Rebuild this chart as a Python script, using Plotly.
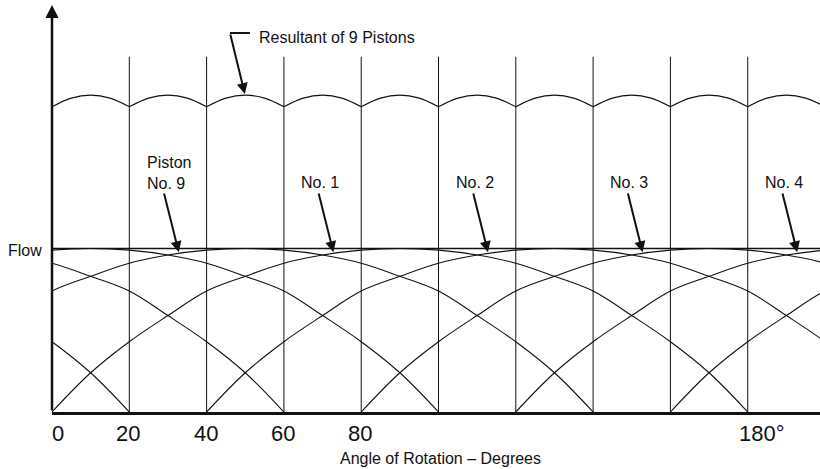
"""Flow of a 9-piston pump: single piston curves and their resultant."""
import plotly.graph_objects as go

# one piston's delivery over half a turn (flow = 1 at peak)
profile_angles = [0, 10, 20, 30, 40, 50, 60, 70, 80, 90,
                  100, 110, 120, 130, 140, 150, 160, 170, 180]
profile_flow = [0, 0.24, 0.43, 0.59, 0.74, 0.83, 0.91, 0.96, 0.99, 1.0,
                0.99, 0.96, 0.91, 0.83, 0.74, 0.59, 0.43, 0.24, 0]

# angle at which each piston starts delivering
piston_starts = [-160, -120, -80, -40, 0, 40, 80, 120, 160]

# resultant of the 9 pistons (drawn on the same scale, above the single curves)
resultant_angles = list(range(0, 205, 5))
resultant_flow = [1.867, 1.92, 1.938, 1.92, 1.867, 1.92, 1.938, 1.92, 1.867,
                  1.92, 1.938, 1.92, 1.867, 1.92, 1.938, 1.92, 1.867, 1.92,
                  1.938, 1.92, 1.867, 1.92, 1.938, 1.92, 1.867, 1.92, 1.938,
                  1.92, 1.867, 1.92, 1.938, 1.92, 1.867, 1.92, 1.938, 1.92,
                  1.867, 1.92, 1.938, 1.92, 1.867]

grid_angles = [20, 40, 60, 80, 100, 120, 140, 160, 180]
tick_angles = [0, 20, 40, 60, 80, 180]
tick_labels = ["0", "20", "40", "60", "80", "180°"]
piston_names = ["Piston<br>No. 9", "No. 1", "No. 2", "No. 3", "No. 4"]

INK = "#111111"
FONT = "Liberation Sans, Arial, Helvetica, sans-serif"

fig = go.Figure()

for start in piston_starts:
    fig.add_trace(go.Scatter(
        x=[start + a for a in profile_angles],
        y=profile_flow,
        mode="lines",
        line=dict(color=INK, width=1.1, shape="spline"),
        hoverinfo="skip",
        showlegend=False,
    ))

# each 20 deg arch on its own so the cusps stay sharp
for k in range(0, len(resultant_angles) - 1, 4):
    fig.add_trace(go.Scatter(
        x=resultant_angles[k:k + 5],
        y=resultant_flow[k:k + 5],
        mode="lines",
        line=dict(color=INK, width=1.1, shape="spline"),
        hoverinfo="skip",
        showlegend=False,
    ))

for a in grid_angles:
    fig.add_shape(type="line", xref="x", yref="y", x0=a, x1=a, y0=0, y1=2.173,
                  line=dict(color=INK, width=1))

# "Flow" reference line
fig.add_shape(type="line", xref="paper", yref="y", x0=0, x1=1, y0=1, y1=1,
              line=dict(color=INK, width=1.3))

# y axis with arrow
fig.add_annotation(x=0, y=2.49, ax=0, ay=0, xref="x", yref="y", axref="x", ayref="y",
                   text="", showarrow=True, arrowhead=2, arrowsize=1.05,
                   arrowwidth=2.5, arrowcolor=INK)

for a, lab in zip(tick_angles, tick_labels):
    if a == 180:
        fig.add_annotation(x=a, y=0, xref="x", yref="paper", text=lab, showarrow=False,
                           xanchor="left", yanchor="middle", xshift=-11, yshift=-21,
                           font=dict(family=FONT, size=22, color=INK))
    else:
        fig.add_annotation(x=a, y=0, xref="x", yref="paper", text=lab, showarrow=False,
                           xanchor="center", yanchor="middle",
                           xshift=6 if a == 0 else -1, yshift=-21,
                           font=dict(family=FONT, size=22, color=INK))

fig.add_annotation(x=0.5, y=0, xref="paper", yref="paper",
                   text="Angle of Rotation – Degrees", showarrow=False,
                   xanchor="center", yanchor="middle", xshift=4, yshift=-46,
                   font=dict(family=FONT, size=16, color=INK))

fig.add_annotation(x=0, y=1, xref="paper", yref="y", text="Flow", showarrow=False,
                   xanchor="right", yanchor="middle", xshift=-8, yshift=-2,
                   font=dict(family=FONT, size=16, color=INK))

# piston labels and arrows
for j, name in enumerate(piston_names):
    tail = 28.9 + 40 * j
    fig.add_annotation(x=tail + 3.9, y=0.977, ax=tail, ay=1.345,
                       xref="x", yref="y", axref="x", ayref="y",
                       text="", showarrow=True, arrowhead=2, arrowsize=1.1,
                       arrowwidth=2, arrowcolor=INK)
    if j == 0:
        fig.add_annotation(x=24.1, y=1.461, xref="x", yref="y", text=name,
                           showarrow=False, xanchor="left", yanchor="middle", align="left",
                           font=dict(family=FONT, size=16, color=INK))
    else:
        fig.add_annotation(x=tail + 0.5, y=1.406, xref="x", yref="y", text=name,
                           showarrow=False, xanchor="center", yanchor="middle",
                           font=dict(family=FONT, size=16, color=INK))

# resultant label with bent leader
fig.add_shape(type="line", xref="x", yref="y", x0=46.05, x1=51.2, y0=2.318, y1=2.318,
              line=dict(color=INK, width=2))
fig.add_annotation(x=49.9, y=1.945, ax=46.05, ay=2.318,
                   xref="x", yref="y", axref="x", ayref="y",
                   text="", showarrow=True, arrowhead=2, arrowsize=1.1,
                   arrowwidth=2, arrowcolor=INK)
fig.add_annotation(x=53.0, y=2.29, xref="x", yref="y", text="Resultant of 9 Pistons",
                   showarrow=False, xanchor="left", yanchor="middle",
                   font=dict(family=FONT, size=16, color=INK))

fig.update_layout(
    width=820, height=469,
    margin=dict(l=52, r=0, t=0, b=57, pad=0),
    paper_bgcolor="white", plot_bgcolor="white",
    xaxis=dict(range=[0, 198.7], showgrid=False, zeroline=False, showticklabels=False,
               ticks="", showline=True, linewidth=2.5, linecolor=INK),
    yaxis=dict(range=[0, 2.52], showgrid=False, zeroline=False, showticklabels=False,
               ticks="", showline=False),
    font=dict(family=FONT, color=INK),
)

# drop the browser's default body margin so the figure sits at the window corner
fig.write_html("out.html", config={"displayModeBar": False},
               post_script="document.body.style.margin='0';document.body.style.overflow='hidden';")
